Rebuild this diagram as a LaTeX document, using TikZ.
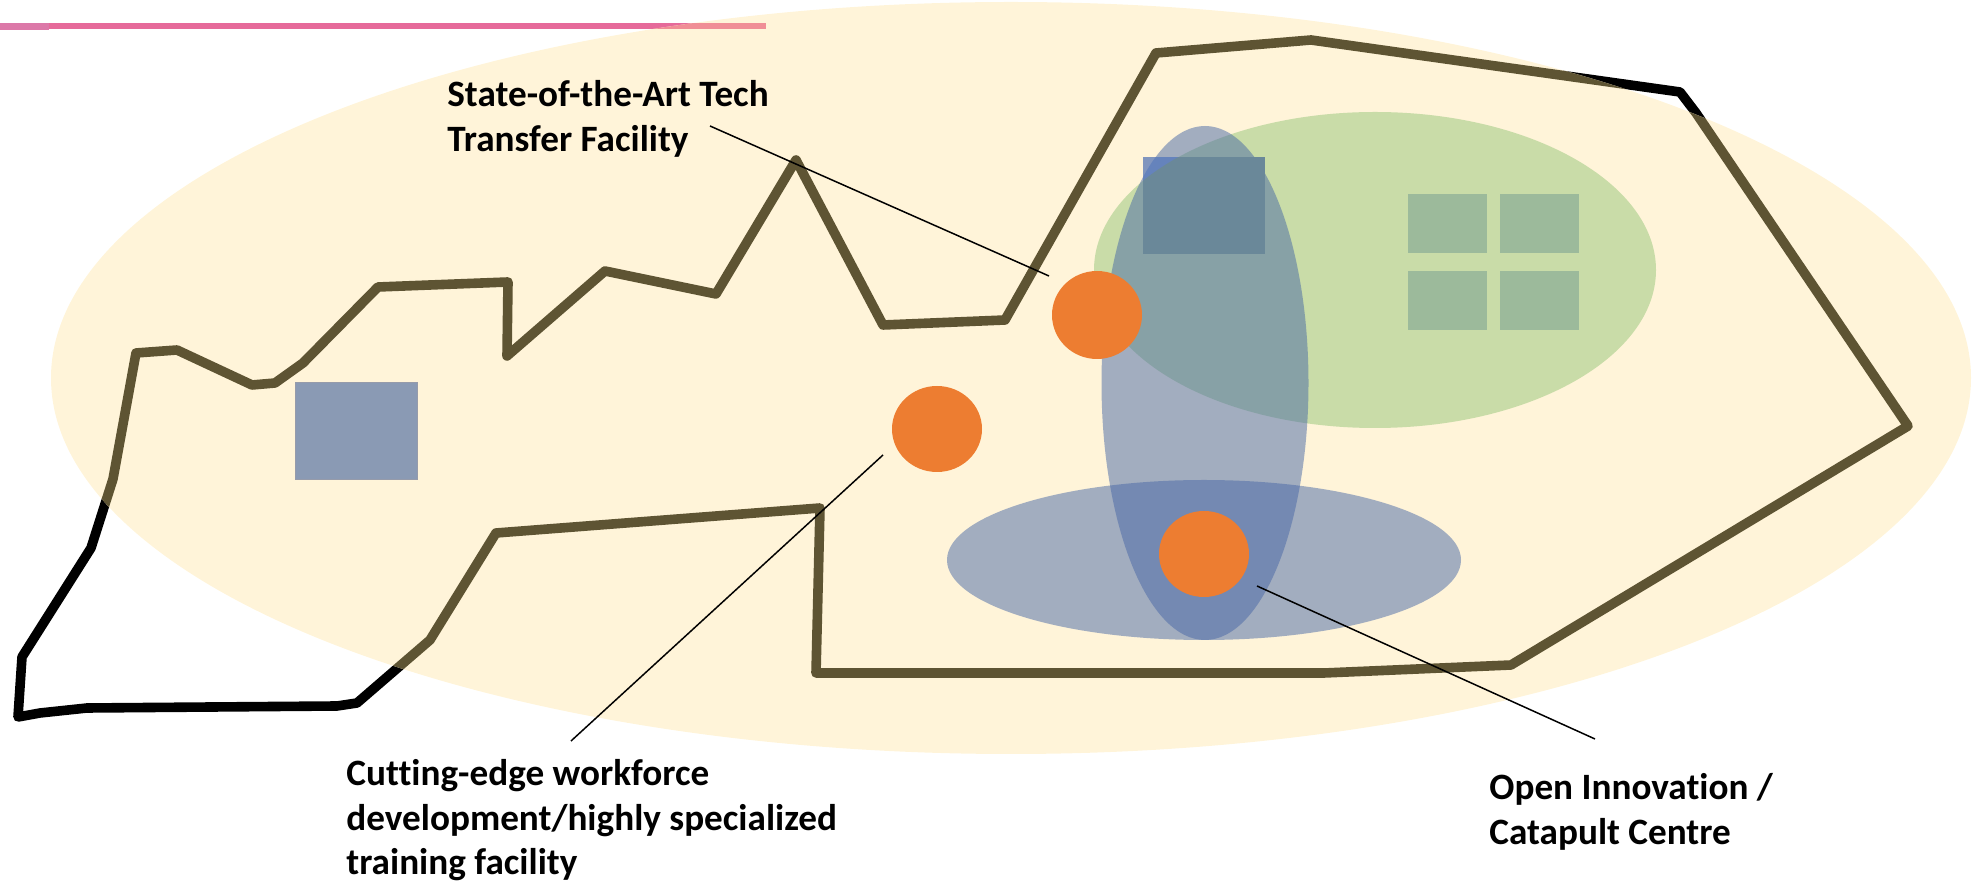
\documentclass[tikz,border=0pt]{standalone}
\usepackage{fontspec}
\setmainfont[Ligatures={NoCommon}]{Carlito}
\usepackage{tikz}
\usetikzlibrary{shapes, calc}

\definecolor{creamfill}{HTML}{FFF4D9}
\definecolor{greenfill}{HTML}{C9DCA8}
\definecolor{bluefill}{HTML}{4767A6}
\definecolor{dotorange}{HTML}{ED7D31}
\definecolor{outlinebrown}{HTML}{5E5433}

\tikzset{
	dotnode/.style={draw=none, fill=dotorange, ellipse, inner sep=0pt,
		minimum width=45pt, minimum height=43pt},
	labelnode/.style={anchor=north west, align=left, inner sep=0pt,
		font=\fontsize{18.6}{22.3}\selectfont\bfseries},
	leader/.style={draw=black, line width=0.75pt},
	outline/.style={line width=4.8pt, line join=round}
}

\begin{document}
\begin{tikzpicture}[x=0.5pt, y=-0.5pt]
	\def \creampath {(1011,378) ellipse [x radius=960, y radius=376]}
	\def \greenpath {(1375,270) ellipse [x radius=281, y radius=158]}
	\def \tallpath {(1205,383) ellipse [x radius=103.5, y radius=257]}
	\def \sitepath {(18,717) -- (22,657) -- (91,548) -- (113,479) -- (136,353)
		-- (177,350) -- (252,385) -- (275,383) -- (303,363) -- (378,287)
		-- (508,282) -- (507,356) -- (605,271) -- (716,294) -- (796,160)
		-- (883,325) -- (1005,320) -- (1156,53) -- (1311,40) -- (1680,92)
		-- (1696,113) -- (1908,426) -- (1511,665) -- (1324,673) -- (816,673)
		-- (820,508) -- (496,533) -- (467,580) -- (430,640) -- (357,703)
		-- (337,706) -- (87,708) -- (40,713) -- cycle}

	\useasboundingbox (0,0) rectangle (1977,886);

	% header rule
	\fill[color={rgb,255:red,230;green,106;blue,154}] (49,23) rectangle (766,29);
	\fill[color={rgb,255:red,220;green,120;blue,168}] (0,23) rectangle (49,30);

	\draw[outline, black] \sitepath;
	\fill[creamfill] \creampath;
	\begin{scope}
		\clip \creampath;
		\fill[color={rgb,255:red,240;green,142;blue,150}] (600,23) rectangle (766,29);
		\draw[outline, outlinebrown] \sitepath;
	\end{scope}

	\fill[greenfill] \greenpath;
	\foreach \x in {1408,1500} {
		\foreach \y in {194,271} {
			\fill[color={rgb,255:red,156;green,186;blue,155}] (\x,\y) rectangle ++(79,59);
		}
	}

	\fill[bluefill, opacity=0.5] \tallpath;
	\fill[bluefill, opacity=0.5] (1204,560) ellipse [x radius=257, y radius=80];

	% top box changes tint where it crosses the other shapes
	\fill[color={rgb,255:red,128;green,149;blue,190}] (1143,157) rectangle (1265,254);
	\begin{scope}
		\clip \tallpath;
		\fill[color={rgb,255:red,101;green,131;blue,188}] (1143,157) rectangle (1265,254);
	\end{scope}
	\begin{scope}
		\clip \greenpath;
		\fill[color={rgb,255:red,106;green,136;blue,153}] (1143,157) rectangle (1265,254);
	\end{scope}

	\fill[color={rgb,255:red,138;green,154;blue,180}, draw={rgb,255:red,150;green,155;blue,170}, line width=0.5pt]
		(295,383) rectangle (417,480);

	\node[dotnode, minimum height=44pt] (transferdot) at (1097,315) {};
	\node[dotnode] (trainingdot) at (937,429) {};
	\node[dotnode] (catapultdot) at (1204,554) {};

	\node[labelnode] (transferlabel) at (447,80)
		{State-of-the-Art Tech\\Transfer Facility};
	\node[labelnode] (traininglabel) at (346,759)
		{Cutting-edge workforce\\development/highly specialized\\training facility};
	\node[labelnode] (catapultlabel) at (1489,773)
		{Open Innovation /\\Catapult Centre};

	\coordinate (transferstart) at (710,126);
	\coordinate (transferend) at (1049,276);
	\coordinate (trainingstart) at (571,741);
	\coordinate (trainingend) at (883,455);
	\coordinate (catapultstart) at (1595,739);
	\coordinate (catapultend) at (1257,586);

	\draw[leader] (transferstart) -- (transferend);
	\draw[leader] (trainingstart) -- (trainingend);
	\draw[leader] (catapultstart) -- (catapultend);
\end{tikzpicture}
\end{document}
